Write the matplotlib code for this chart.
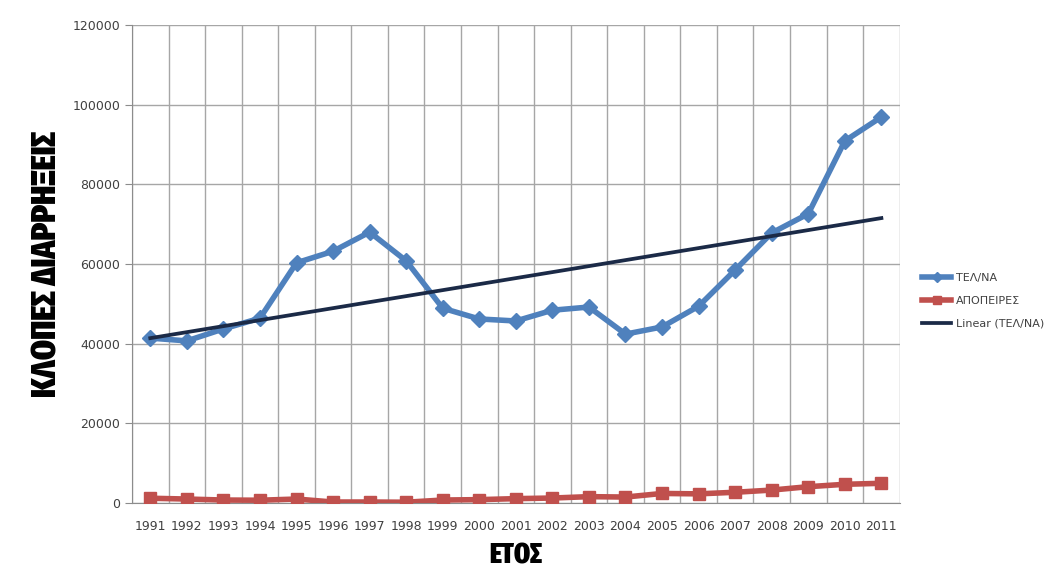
import matplotlib.pyplot as plt
import numpy as np

years = list(range(1991, 2012))
tel_na = [41400, 40700, 43700, 46400, 60300, 63200, 68000, 60800, 48900, 46200, 45700,
          48400, 49200, 42400, 44200, 49400, 58500, 67800, 72600, 90900, 96900]
apopeires = [1200, 1000, 750, 700, 1000, 250, 250, 200, 750, 850, 1100,
             1250, 1600, 1500, 2400, 2300, 2700, 3250, 4100, 4700, 4950]

blue = '#4F81BD'
red = '#C0504D'
navy = '#1B2A47'

x = np.arange(len(years))
coef = np.polyfit(x, tel_na, 1)
trend = np.polyval(coef, x)

fig = plt.figure(figsize=(10.51, 5.68), dpi=100)
ax = fig.add_axes([0.1256, 0.1144, 0.7304, 0.8416])

l1, = ax.plot(x, tel_na, color=blue, lw=4, marker='D', ms=8, label='ΤΕΛ/ΝΑ', zorder=3)
l2, = ax.plot(x, apopeires, color=red, lw=4, marker='s', ms=9, label='ΑΠΟΠΕΙΡΕΣ', zorder=3)
l3, = ax.plot(x, trend, color=navy, lw=2.7, label='Linear (ΤΕΛ/ΝΑ)', zorder=4)

ax.set_xlim(-0.5, len(years) - 0.5)
ax.set_ylim(0, 120000)
ax.set_yticks(np.arange(0, 120001, 20000))
ax.set_xticks(x)
ax.set_xticklabels([str(y) for y in years])
ax.set_xticks(np.arange(-0.5, len(years), 1), minor=True)
ax.grid(True, which='minor', axis='x', color='#A6A6A6', lw=1)
ax.grid(True, which='major', axis='y', color='#A6A6A6', lw=1)
ax.set_axisbelow(True)

for s in ['top', 'right']:
    ax.spines[s].set_visible(False)
ax.spines['left'].set_color('#8C8C8C')
ax.spines['bottom'].set_color('#8C8C8C')
ax.tick_params(axis='y', length=5, color='#8C8C8C', labelsize=9, labelcolor='#404040')
ax.tick_params(axis='x', which='both', length=0, labelsize=9, labelcolor='#404040', pad=12)

cond = ['Fira Sans Extra Condensed', 'DejaVu Sans']
ax.set_ylabel('ΚΛΟΠΕΣ ΔΙΑΡΡΗΞΕΙΣ', fontsize=25, fontweight=900, family=cond)
ax.yaxis.set_label_coords(-0.089, 0.5)
ax.set_xlabel('ΕΤΟΣ', fontsize=20, fontweight=900, family=cond)
ax.xaxis.set_label_coords(0.5, -0.08)

fig.legend(handles=[l1, l2, l3], loc='upper left', bbox_to_anchor=(0.868, 0.537),
           frameon=False, fontsize=8, handlelength=2.6, handletextpad=0.4, labelspacing=1.15,
           markerscale=0.6, labelcolor='#404040')

fig.savefig('out.png', dpi=100)
